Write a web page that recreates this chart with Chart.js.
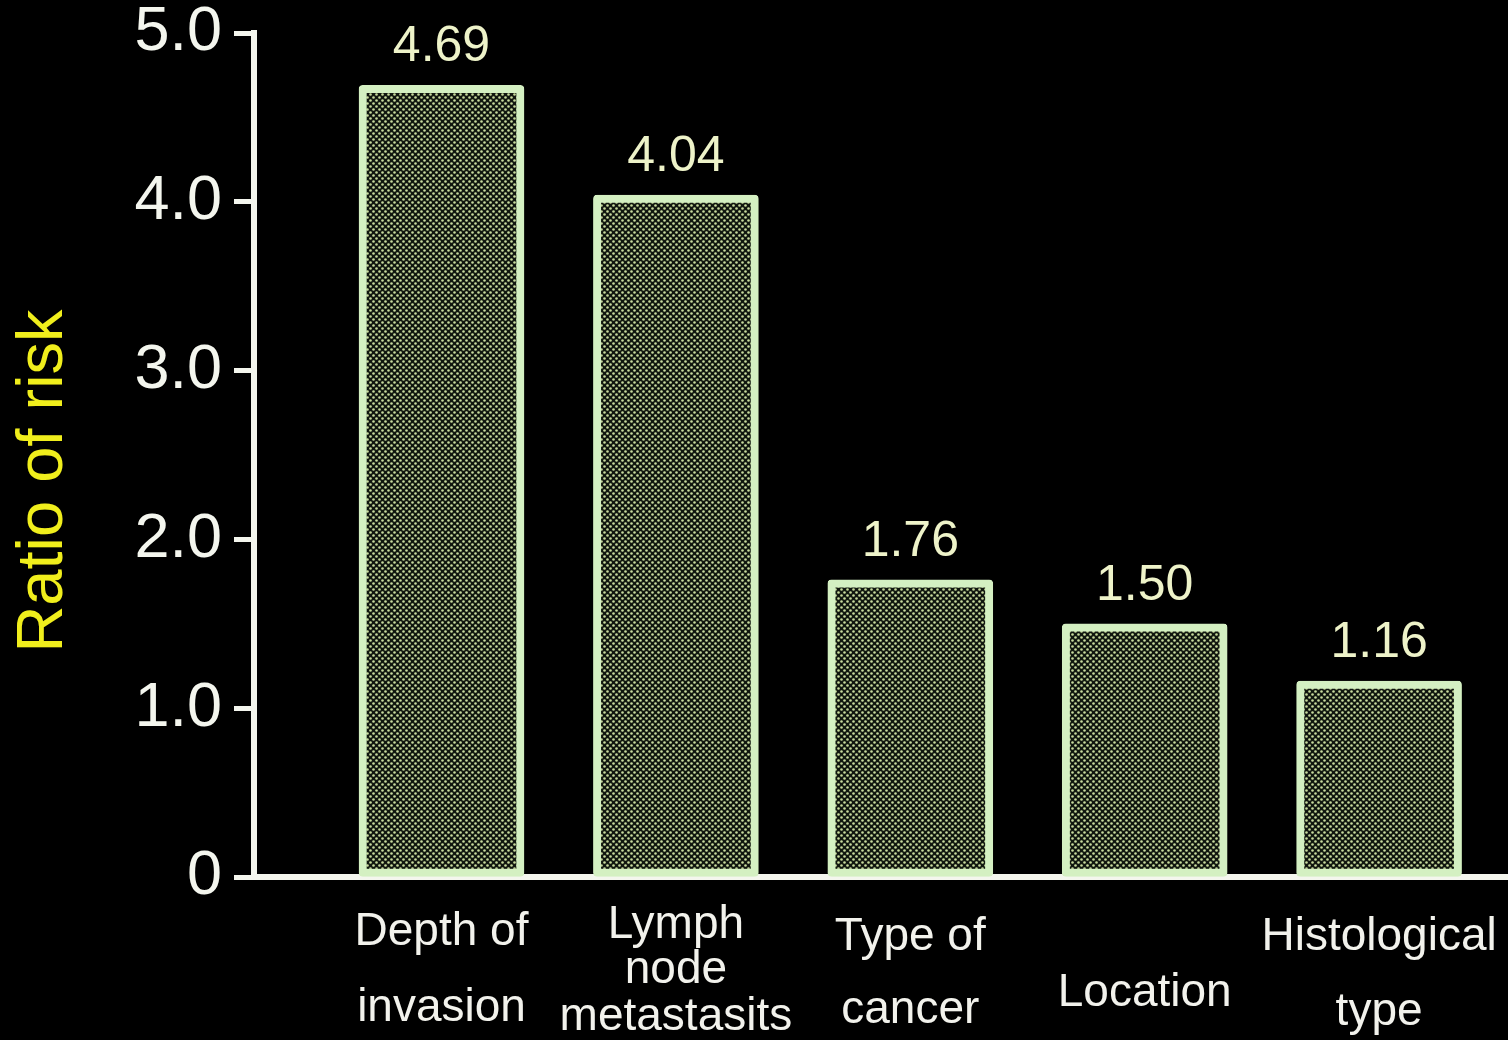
<!DOCTYPE html>
<html>
<head>
<meta charset="utf-8">
<title>Ratio of risk</title>
<script src="https://cdn.jsdelivr.net/npm/chart.js@4.4.1/dist/chart.umd.min.js"></script>
<style>
  html, body { margin: 0; padding: 0; background: #000; }
  #wrap { position: relative; width: 1508px; height: 1040px; }
</style>
</head>
<body>
<div id="wrap"><canvas id="chart"></canvas></div>
<script>
/* ── Data ── */
var categories = [
  ['Depth of', 'invasion'],
  ['Lymph', 'node', 'metastasits'],
  ['Type of', 'cancer'],
  ['Location'],
  ['Histological', 'type']
];
var riskRatio = [4.69, 4.04, 1.76, 1.50, 1.16];
var yTicks = [0, 1, 2, 3, 4, 5];
var yTitle = 'Ratio of risk';

/* ── Look ── */
var FONT = '"Liberation Sans", Arial, Helvetica, sans-serif';
var LINE = '#f4f6ee';
var BAR_EDGE = '#d4f0c2';

/* label line offsets below the x axis (px), per category */
var labelRows = [
  [55, 131],
  [48, 93, 140],
  [60, 133],
  [116],
  [60, 135]
];

/* ── Halftone fill for bars ── */
function dotPattern() {
  var c = document.createElement('canvas');
  c.width = 6; c.height = 6;
  var g = c.getContext('2d');
  g.fillStyle = '#10160f';
  g.fillRect(0, 0, 6, 6);
  g.fillStyle = '#c9dc9e';
  [[1.5, 1.5], [4.5, 4.5]].forEach(function(p) {
    g.beginPath();
    g.arc(p[0], p[1], 1.3, 0, Math.PI * 2);
    g.fill();
  });
  var ctx = document.getElementById('chart').getContext('2d');
  return ctx.createPattern(c, 'repeat');
}

/* ── Texts drawn around the plot: value labels, category labels, y title ── */
var textPlugin = {
  id: 'slideText',
  afterDatasetsDraw: function(chart) {
    var ctx = chart.ctx;
    var meta = chart.getDatasetMeta(0);
    var xs = chart.scales.x;
    var area = chart.chartArea;

    ctx.save();
    ctx.textAlign = 'center';
    ctx.textBaseline = 'middle';

    /* values above bars */
    ctx.fillStyle = '#eef3c9';
    ctx.font = '50px ' + FONT;
    meta.data.forEach(function(bar, i) {
      ctx.fillText(riskRatio[i].toFixed(2), bar.x, bar.y - 38);
    });

    /* category labels */
    ctx.fillStyle = '#f2f2ec';
    ctx.font = '46px ' + FONT;
    categories.forEach(function(lines, i) {
      var cx = xs.getPixelForValue(i);
      lines.forEach(function(txt, j) {
        ctx.fillText(txt, cx, area.bottom + labelRows[i][j]);
      });
    });

    /* rotated y title */
    ctx.translate(44, 481);
    ctx.rotate(-Math.PI / 2);
    ctx.fillStyle = '#f0ee1c';
    ctx.font = '65px ' + FONT;
    ctx.fillText(yTitle, 0, 0);
    ctx.restore();
  }
};

var chart = new Chart(document.getElementById('chart'), {
  type: 'bar',
  data: {
    datasets: [{
      data: riskRatio.map(function(v, i) { return { x: i, y: v }; }),
      backgroundColor: dotPattern(),
      borderColor: BAR_EDGE,
      borderWidth: 8,
      borderSkipped: false,
      borderRadius: 4,
      barThickness: 165
    }]
  },
  options: {
    responsive: true,
    maintainAspectRatio: false,
    animation: false,
    layout: { padding: { top: 33, right: 0, left: 0, bottom: 0 } },
    plugins: { legend: { display: false }, tooltip: { enabled: false } },
    scales: {
      x: {
        type: 'linear',
        offset: false,
        min: -0.8,
        max: 4.55,
        ticks: { display: false },
        grid: { display: true, drawOnChartArea: false, drawTicks: false },
        border: { display: true, color: LINE, width: 6 },
        afterFit: function(s) {
          s.height = 163;
          s.paddingLeft = 0; s.paddingRight = 0;
        }
      },
      y: {
        min: 0,
        max: 5,
        afterBuildTicks: function(s) {
          s.ticks = yTicks.map(function(v) { return { value: v }; });
        },
        ticks: {
          color: LINE,
          padding: 12,
          font: { family: FONT, size: 63 },
          callback: function(v) { return v === 0 ? '0' : v.toFixed(1); }
        },
        grid: {
          drawOnChartArea: false,
          drawTicks: true,
          tickLength: 20,
          tickWidth: 5,
          tickColor: LINE
        },
        border: { display: true, color: LINE, width: 6 },
        afterFit: function(s) {
          s.width = 254;
          s.paddingTop = 0; s.paddingBottom = 0;
        }
      }
    }
  },
  plugins: [textPlugin]
});
</script>
</body>
</html>
